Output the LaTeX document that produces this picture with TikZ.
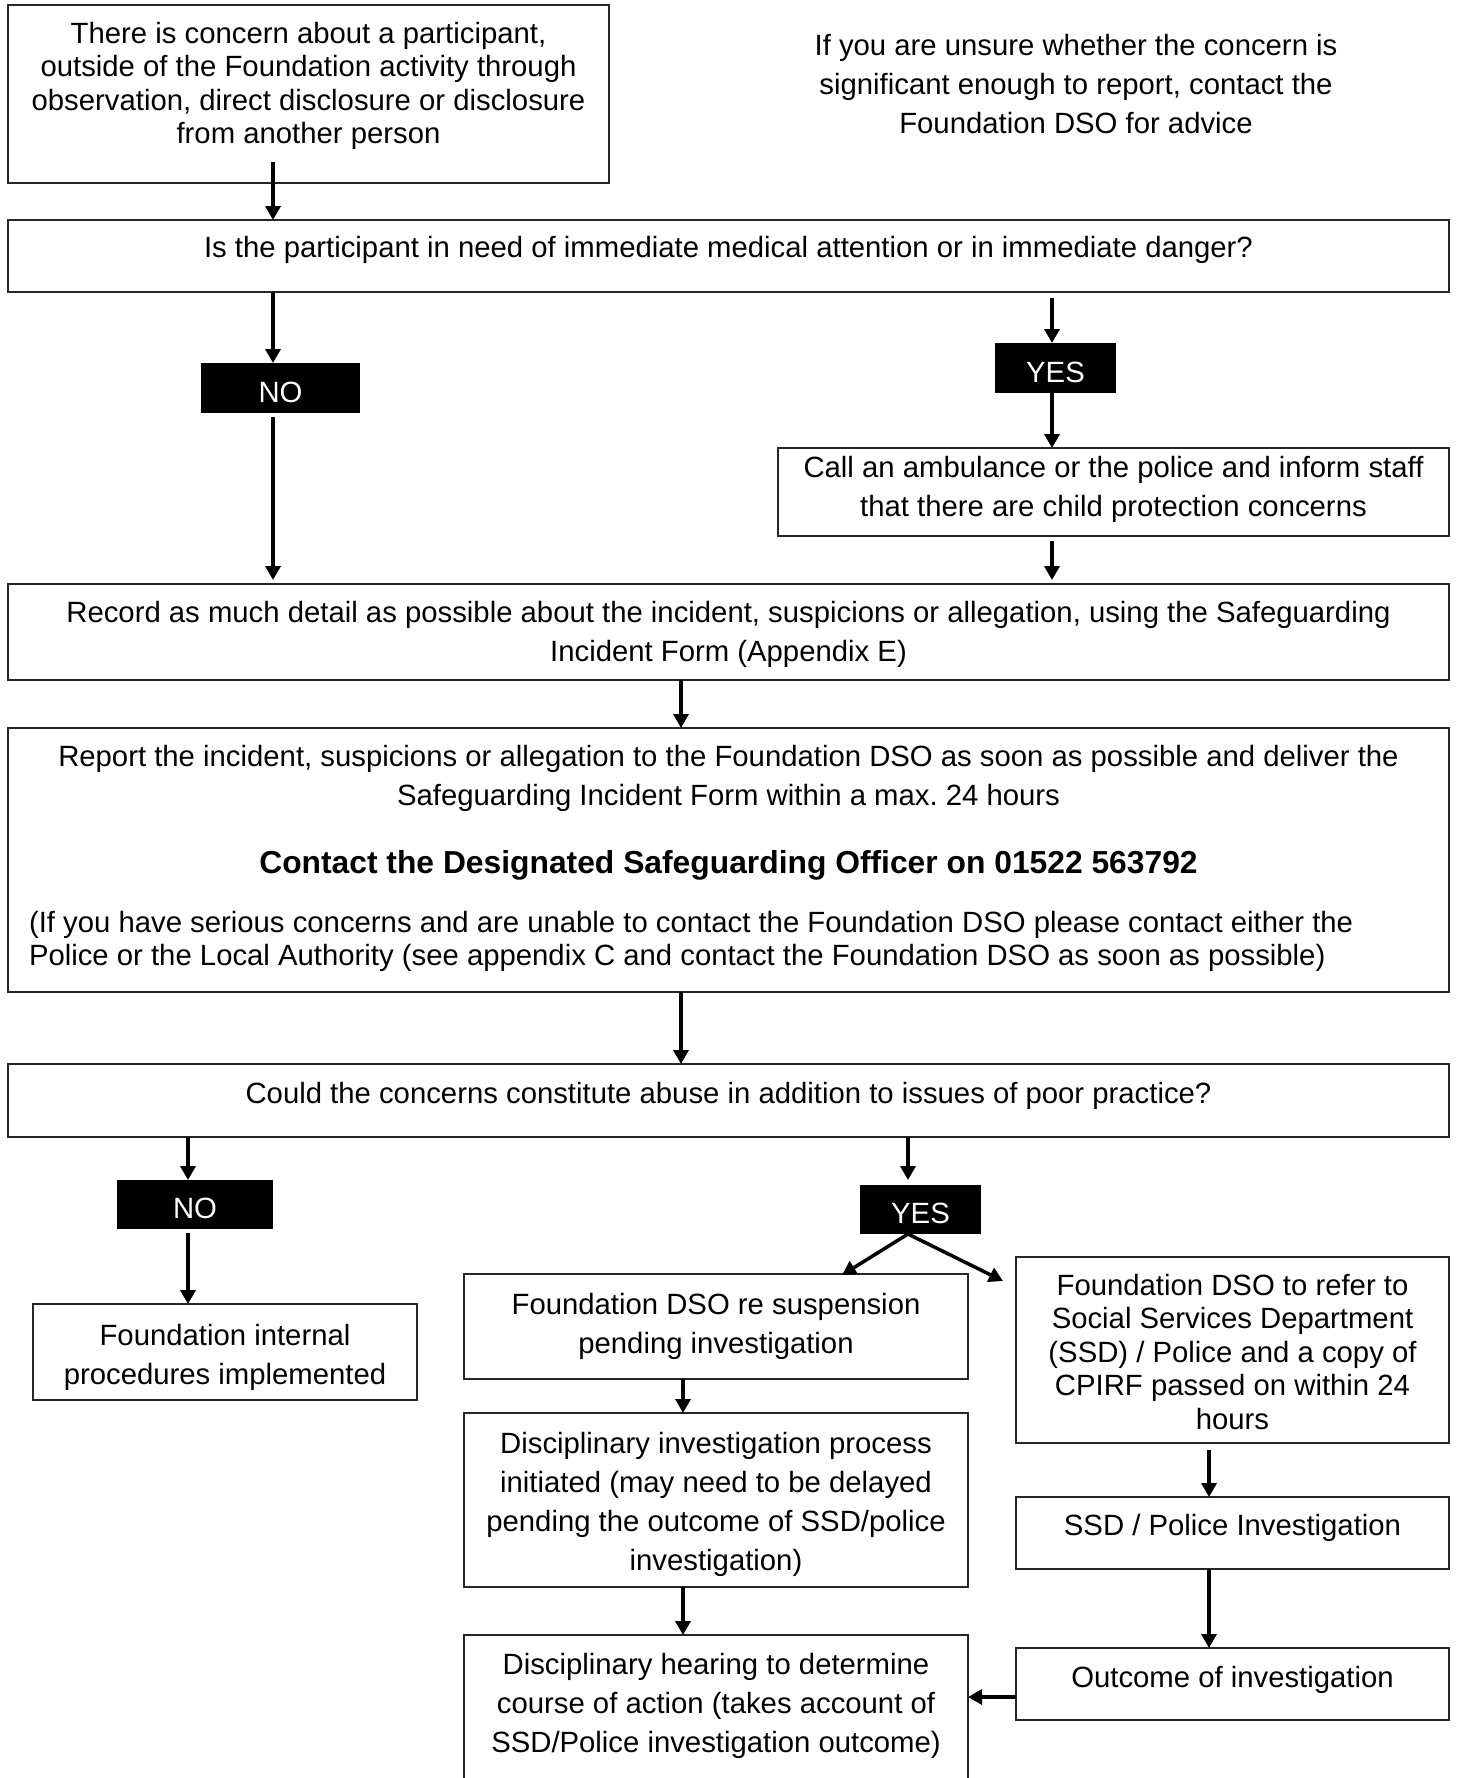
\documentclass[tikz,border=0pt]{standalone}
\usepackage{fontspec}
\setmainfont{Liberation Sans}
\usetikzlibrary{arrows.meta,calc}
\frenchspacing
\newcommand\fsN{\fontsize{29.3pt}{39pt}\selectfont}
\newcommand\fsT{\fontsize{29.3pt}{33.6pt}\selectfont}
\newcommand\fsB{\fontsize{31.8pt}{39pt}\selectfont\bfseries}
\newcommand\fl{\rule{0pt}{30pt}}
\begin{document}
\begin{tikzpicture}[x=1pt,y=-1pt,
  box/.style={draw=black!85, line width=2pt, inner sep=0pt, outer sep=0pt},
  lab/.style={fill=black, inner sep=0pt, outer sep=0pt},
  txt/.style={inner sep=0pt, outer sep=0pt, anchor=north, align=center, font=\fsN},
  wtxt/.style={txt, text=white},
  arr/.style={line width=3.5pt, -{Triangle[length=14pt,width=15pt]}}]
\fill[white] (0,0) rectangle (1458,1778);
\clip (0,0) rectangle (1458,1778);

% boxes
\node[box, minimum width=601pt, minimum height=178pt] (b1) at (308.5,94) {};
\node[box, minimum width=1441pt, minimum height=72pt] (q1) at (728.5,256) {};
\node[lab, minimum width=159pt, minimum height=50pt] (no1) at (280.5,388) {};
\node[lab, minimum width=121pt, minimum height=50pt] (yes1) at (1055.5,368) {};
\node[box, minimum width=671pt, minimum height=88pt] (call) at (1113.5,492) {};
\node[box, minimum width=1441pt, minimum height=96pt] (rec) at (728.5,632) {};
\node[box, minimum width=1441pt, minimum height=264pt] (rep) at (728.5,860) {};
\node[box, minimum width=1441pt, minimum height=73pt] (could) at (728.5,1100.5) {};
\node[lab, minimum width=156pt, minimum height=49pt] (no2) at (195,1204.5) {};
\node[lab, minimum width=121pt, minimum height=49pt] (yes2) at (920.5,1209.5) {};
\node[box, minimum width=384pt, minimum height=96pt] (int) at (225,1352) {};
\node[box, minimum width=504pt, minimum height=105pt] (susp) at (716,1326.5) {};
\node[box, minimum width=504pt, minimum height=174pt] (disc) at (716,1500) {};
\node[box, minimum width=504pt, minimum height=180pt] (hear) at (716,1725) {};
\node[box, minimum width=433pt, minimum height=186pt] (refer) at (1232.5,1350) {};
\node[box, minimum width=433pt, minimum height=72pt] (ssd) at (1232.5,1533) {};
\node[box, minimum width=433pt, minimum height=72pt] (out) at (1232.5,1684) {};

% texts
\node[txt, font=\fsT] (t1) at (308.5,13) {\fl There is concern about a participant,\\outside of the Foundation activity through\\observation, direct disclosure or disclosure\\from another person};
\node[txt] (note) at (1076,25) {\fl If you are unsure whether the concern is\\significant enough to report, contact the\\Foundation DSO for advice};
\node[txt] (tq1) at (728.5,227) {\fl Is the participant in need of immediate medical attention or in immediate danger?};
\node[wtxt] (tno1) at (280.5,372) {\fl NO};
\node[wtxt] (tyes1) at (1055.5,352) {\fl YES};
\node[txt] (tcall) at (1113.5,447) {\fl Call an ambulance or the police and inform staff\\that there are child protection concerns};
\node[txt] (trec) at (728.5,592) {\fl Record as much detail as possible about the incident, suspicions or allegation, using the Safeguarding\\Incident Form (Appendix E)};
\node[txt] (trep) at (728.5,736) {\fl Report the incident, suspicions or allegation to the Foundation DSO as soon as possible and deliver the\\Safeguarding Incident Form within a max. 24 hours};
\node[txt, font=\fsB] (tdso) at (728.5,843) {\fl Contact the Designated Safeguarding Officer on 01522 563792};
\node[txt, font=\fsT, anchor=north west, align=left] (tpara) at (29,902) {\fl (If you have serious concerns and are unable to contact the Foundation DSO please contact either the\\Police or the Local Authority (see appendix C and contact the Foundation DSO as soon as possible)};
\node[txt] (tcould) at (728.5,1073) {\fl Could the concerns constitute abuse in addition to issues of poor practice?};
\node[wtxt] (tno2) at (195,1188) {\fl NO};
\node[wtxt] (tyes2) at (920.5,1193) {\fl YES};
\node[txt] (tint) at (225,1315) {\fl Foundation internal\\procedures implemented};
\node[txt] (tsusp) at (716,1284) {\fl Foundation DSO re suspension\\pending investigation};
\node[txt] (tdisc) at (716,1423) {\fl Disciplinary investigation process\\initiated (may need to be delayed\\pending the outcome of SSD/police\\investigation)};
\node[txt] (thear) at (716,1644) {\fl Disciplinary hearing to determine\\course of action (takes account of\\SSD/Police investigation outcome)};
\node[txt, font=\fsT] (trefer) at (1232.5,1265) {\fl Foundation DSO to refer to\\Social Services Department\\(SSD) / Police and a copy of\\CPIRF passed on within 24\\hours};
\node[txt] (tssd) at (1232.5,1505) {\fl SSD / Police Investigation};
\node[txt] (tout) at (1232.5,1657) {\fl Outcome of investigation};

% helper coordinates
\coordinate (xa) at (273,0);
\coordinate (xb) at (1052,0);
\coordinate (xc) at (681,0);
\coordinate (xd) at (188,0);
\coordinate (xe) at (908,0);
\coordinate (xf) at (683,0);
\coordinate (xg) at (1209,0);
\coordinate (ya) at (0,1697);
\coordinate (tipL) at (842,1275);
\coordinate (tipR) at (1003,1281);

% connectors
\draw[arr] ($(b1.south -| xa)+(0,-21)$) -- (q1.north -| xa);
\draw[arr] (q1.south -| xa) -- (no1.north -| xa);
\draw[arr] ($(no1.south -| xa)+(0,4)$) -- ($(rec.north -| xa)+(0,-4)$);
\draw[arr] ($(q1.south -| xb)+(0,6)$) -- (yes1.north -| xb);
\draw[arr] (yes1.south -| xb) -- (call.north -| xb);
\draw[arr] ($(call.south -| xb)+(0,5)$) -- ($(rec.north -| xb)+(0,-4)$);
\draw[arr] (rec.south -| xc) -- (rep.north -| xc);
\draw[arr] (rep.south -| xc) -- (could.north -| xc);
\draw[arr] (could.south -| xd) -- (no2.north -| xd);
\draw[arr] ($(no2.south -| xd)+(0,4)$) -- (int.north -| xd);
\draw[arr] (could.south -| xe) -- ($(yes2.north -| xe)+(0,-5)$);
\draw[arr] (yes2.south -| xe) -- (tipL);
\draw[arr] (yes2.south -| xe) -- (tipR);
\draw[arr] (susp.south -| xf) -- (disc.north -| xf);
\draw[arr] (disc.south -| xf) -- (hear.north -| xf);
\draw[arr] ($(refer.south -| xg)+(0,7)$) -- (ssd.north -| xg);
\draw[arr] (ssd.south -| xg) -- (out.north -| xg);
\draw[arr] (out.west |- ya) -- (hear.east |- ya);
\end{tikzpicture}
\end{document}
